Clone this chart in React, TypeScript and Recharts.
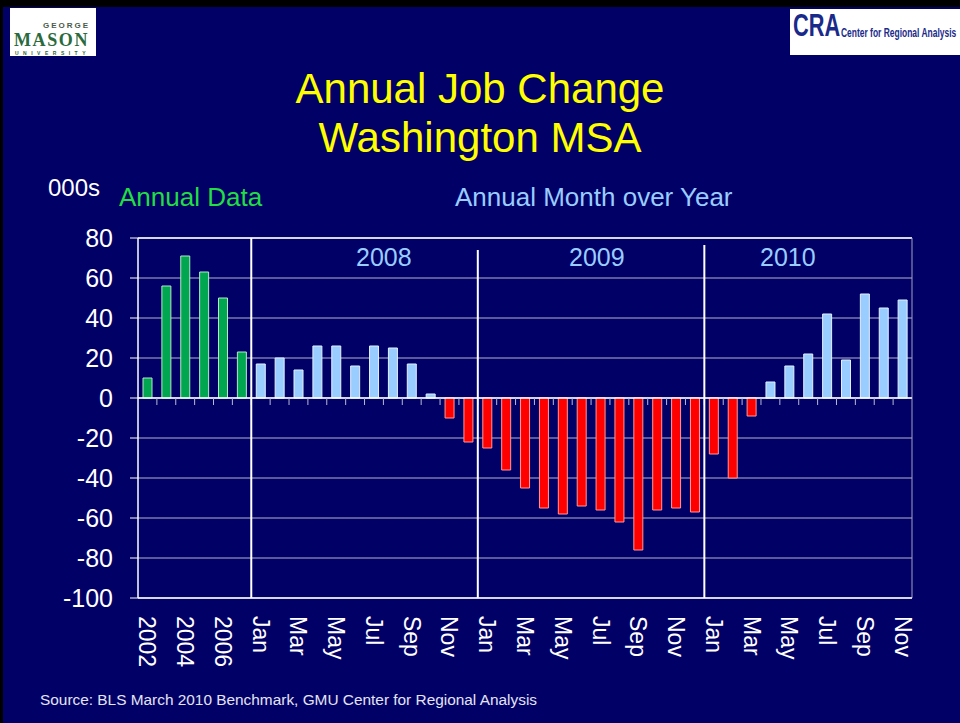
import { BarChart, Bar, Cell, XAxis, YAxis, CartesianGrid, ReferenceLine } from 'recharts';

const annualYears = ['2002', '2003', '2004', '2005', '2006', '2007'];
const annualValues = [10, 56, 71, 63, 50, 23];

const months = ['Jan', 'Feb', 'Mar', 'Apr', 'May', 'Jun', 'Jul', 'Aug', 'Sep', 'Oct', 'Nov', 'Dec'];
const values2008 = [17, 20, 14, 26, 26, 16, 26, 25, 17, 2, -10, -22];
const values2009 = [-25, -36, -45, -55, -58, -54, -56, -62, -76, -56, -55, -57];
const values2010 = [-28, -40, -9, 8, 16, 22, 42, 19, 52, 45, 49];

const yTicks = [-100, -80, -60, -40, -20, 0, 20, 40, 60, 80];
const sectionYears = ['2008', '2009', '2010'];

type Row = { id: string; label: string; value: number; annual: boolean; pos: number };

const rows: Row[] = [];
annualYears.forEach((y, i) => rows.push({ id: y, label: y, value: annualValues[i], annual: true, pos: 0 }));
[values2008, values2009, values2010].forEach((vals, k) =>
  vals.forEach((v, i) =>
    rows.push({ id: `${sectionYears[k]}-${months[i]}`, label: months[i], value: v, annual: false, pos: 0 })
  )
);
rows.forEach((r, i) => (r.pos = i + 0.5));

// boundaries between annual data and each year of monthly data
const dividers = [annualYears.length, annualYears.length + 12, annualYears.length + 24];

const NAVY = '#000066';
const FONT = 'Arial, "Liberation Sans", sans-serif';

const barColor = (r: Row) => (r.annual ? '#00A650' : r.value < 0 ? '#FF0000' : '#99CCFF');
const barStroke = (r: Row) => (r.annual ? '#B8E8C8' : r.value < 0 ? '#FF9999' : '#E4F0FF');

function XTick(props: any) {
  const { x, y, index } = props;
  if (index % 2 !== 0) return null;
  const ty = y + 10;
  return (
    <text
      x={x}
      y={ty}
      transform={`rotate(90 ${x} ${ty})`}
      textAnchor="start"
      dominantBaseline="central"
      fill="#fff"
      fontSize={23}
      fontFamily={FONT}
    >
      {rows[index].label}
    </text>
  );
}

function ZeroLine(p: any) {
  const n = rows.length;
  const step = (p.x2 - p.x1) / n;
  const ticks = [];
  for (let i = 1; i < n; i++) {
    const tx = p.x1 + i * step;
    ticks.push(<line key={i} x1={tx} x2={tx} y1={p.y1} y2={p.y1 + 7} stroke="#B8B8D8" strokeWidth={1} />);
  }
  return (
    <g>
      <line x1={p.x1} x2={p.x2} y1={p.y1} y2={p.y2} stroke="#fff" strokeWidth={1.5} />
      {ticks}
    </g>
  );
}

const Divider = (ext: number) => (p: any) =>
  <line x1={p.x1} x2={p.x2} y1={p.y1} y2={p.y2 + ext} stroke="#fff" strokeWidth={2} />;

const abs = (s: any) => ({ position: 'absolute' as const, fontFamily: FONT, whiteSpace: 'nowrap' as const, ...s });

function Logos() {
  const green = '#2a6a3c';
  const blue = '#1a2a8a';
  return (
    <>
      <div style={{ position: 'absolute', left: 10, top: 8, width: 86, height: 48, background: '#fff' }} />
      <div style={abs({ left: 43, top: 21.5, fontSize: 8, lineHeight: 1.117, fontWeight: 700, color: '#4a5a4a', letterSpacing: 2 })}>GEORGE</div>
      <div style={abs({ left: 14, top: 30.5, fontSize: 18, lineHeight: 1.107, fontWeight: 700, color: green, letterSpacing: 1.6, fontFamily: '"Liberation Serif", serif' })}>MASON</div>
      <div style={abs({ left: 15, top: 50.5, fontSize: 5, lineHeight: 1.117, fontWeight: 700, color: green, letterSpacing: 4.5 })}>UNIVERSITY</div>

      <div style={{ position: 'absolute', left: 790, top: 9, width: 170, height: 46, background: '#fff' }} />
      <div style={abs({ left: 793, top: 13, fontSize: 32, lineHeight: '24px', fontWeight: 700, color: blue, transform: 'scaleX(0.68)', transformOrigin: 'left' })}>CRA</div>
      <div style={abs({ left: 841, top: 26, fontSize: 13, lineHeight: '13px', fontWeight: 700, color: blue, transform: 'scaleX(0.65)', transformOrigin: 'left' })}>Center for Regional Analysis</div>
    </>
  );
}

export default function App() {
  return (
    <div style={{ position: 'absolute', left: 0, top: 0, width: 960, height: 723, background: '#000', overflow: 'hidden' }}>
      <div style={{ position: 'absolute', left: 3, top: 7, right: 0, bottom: 0, background: NAVY }} />

      <Logos />

      {/* titles */}
      <div style={abs({ left: 0, width: 960, top: 64, textAlign: 'center', fontSize: 42, lineHeight: '49px', color: '#FFFF00' })}>
        Annual Job Change
        <br />
        Washington MSA
      </div>
      <div style={abs({ left: 48, top: 174, fontSize: 24, color: '#fff' })}>000s</div>
      <div style={abs({ left: 119, top: 182, fontSize: 26, color: '#22DD44' })}>Annual Data</div>
      <div style={abs({ left: 455, top: 182, fontSize: 26, color: '#99CCFF' })}>Annual Month over Year</div>

      <div style={{ position: 'absolute', left: 0, top: 0 }}>
        <BarChart width={960} height={723} data={rows} margin={{ top: 238, right: 48, bottom: 0, left: 0 }} barSize={9}>
          <CartesianGrid vertical={false} stroke="#B4B4D0" strokeWidth={1} />
          <XAxis
            dataKey="id"
            interval={0}
            height={125}
            tick={<XTick />}
            tickLine={false}
            axisLine={{ stroke: '#fff', strokeWidth: 1.5 }}
          />
          <XAxis xAxisId="n" dataKey="pos" type="number" domain={[0, rows.length]} hide allowDataOverflow />
          <YAxis
            domain={[-100, 80]}
            ticks={yTicks}
            interval={0}
            width={138}
            tickSize={8}
            tickMargin={17}
            tick={{ fill: '#fff', fontSize: 25, fontFamily: FONT }}
            axisLine={{ stroke: '#fff', strokeWidth: 1.5 }}
            tickLine={{ stroke: '#fff' }}
          />
          <ReferenceLine y={80} stroke="#fff" strokeWidth={1.5} />
          <ReferenceLine xAxisId="n" x={rows.length} stroke="#A0A0C0" />
          <Bar dataKey="value" isAnimationActive={false} strokeWidth={1}>
            {rows.map((r) => (
              <Cell key={r.id} fill={barColor(r)} stroke={barStroke(r)} />
            ))}
          </Bar>
          <ReferenceLine y={0} shape={ZeroLine} />
          <ReferenceLine xAxisId="n" x={dividers[0]} shape={Divider(0)} />
          <ReferenceLine xAxisId="n" x={dividers[1]} shape={Divider(12)} />
          <ReferenceLine xAxisId="n" x={dividers[2]} shape={Divider(7)} />
        </BarChart>
      </div>

      {/* section year labels */}
      <div style={abs({ left: 356, top: 243, fontSize: 25, color: '#99CCFF' })}>{sectionYears[0]}</div>
      <div style={abs({ left: 569, top: 243, fontSize: 25, color: '#99CCFF' })}>{sectionYears[1]}</div>
      <div style={abs({ left: 760, top: 243, fontSize: 25, color: '#99CCFF' })}>{sectionYears[2]}</div>

      <div style={abs({ left: 40, top: 691, fontSize: 15.4, color: '#E4E4F4' })}>
        Source: BLS March 2010 Benchmark, GMU Center for Regional Analysis
      </div>
    </div>
  );
}
